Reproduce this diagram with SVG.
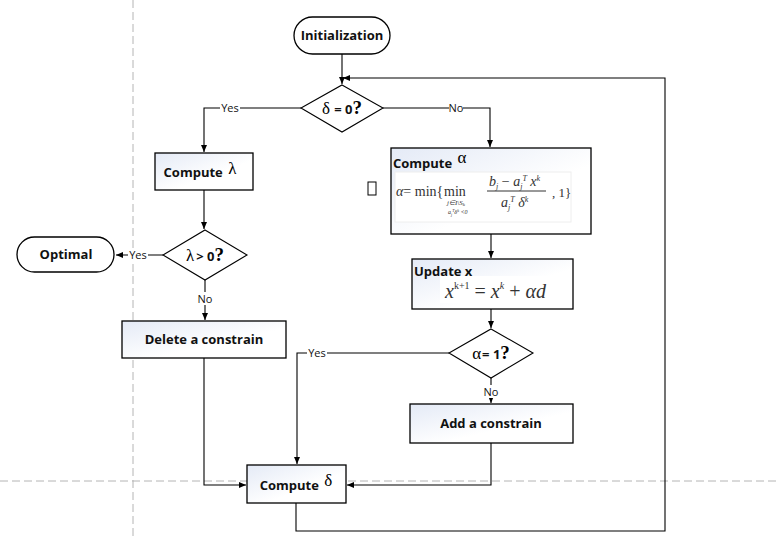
<svg xmlns="http://www.w3.org/2000/svg" width="779" height="538" viewBox="0 0 779 538">
<defs>
<linearGradient id="g" x1="0" y1="0" x2="1" y2="1">
<stop offset="0" stop-color="#e4eaf6"/>
<stop offset="0.6" stop-color="#ffffff"/>
</linearGradient>
<marker id="ah" markerWidth="8" markerHeight="8" refX="7" refY="4" orient="auto" markerUnits="userSpaceOnUse">
<path d="M0,1 L7,4 L0,7 Z" fill="#000"/>
</marker>
<style>
.box{fill:url(#g);stroke:#000;stroke-width:1.3}
.term{fill:#fff;stroke:#000;stroke-width:1.3}
.dia{fill:#fff;stroke:#000;stroke-width:1.1}
.t{font-family:"Open Sans","Noto Sans","Liberation Sans",sans-serif;font-weight:bold;font-size:13px;fill:#111}
.g{font-family:"Liberation Serif","Times New Roman",serif;font-size:17px;fill:#000}
.q{font-family:"Liberation Serif","Times New Roman",serif;font-weight:bold;font-size:19px;fill:#000}
.lab{font-family:"Open Sans","Noto Sans","Liberation Sans",sans-serif;font-size:11px;fill:#111}
.c{fill:none;stroke:#000;stroke-width:1.1}
.m{font-family:"Liberation Serif","Times New Roman",serif;fill:#333}
.dash{stroke:#b4b4b4;stroke-width:1;stroke-dasharray:8 4;fill:none}
</style>
</defs>
<rect width="779" height="538" fill="#fff"/>
<g id="guides">
<line class="dash" x1="133" y1="0" x2="133" y2="538"/>
<line class="dash" x1="0" y1="481" x2="779" y2="481"/>
</g>
<g id="connectors">
<path class="c" d="M342 54 V84" marker-end="url(#ah)"/>
<path class="c" d="M296 503 V531 H665 V78 H343" marker-end="url(#ah)"/>
<path class="c" d="M301 108 H204 V152" marker-end="url(#ah)"/>
<path class="c" d="M383 108 H490 V147" marker-end="url(#ah)"/>
<path class="c" d="M204 190 V229" marker-end="url(#ah)"/>
<path class="c" d="M163 255 H116" marker-end="url(#ah)"/>
<path class="c" d="M205 280 V320" marker-end="url(#ah)"/>
<path class="c" d="M204 358 V485 H246" marker-end="url(#ah)"/>
<path class="c" d="M491 234 V258" marker-end="url(#ah)"/>
<path class="c" d="M491 309 V328" marker-end="url(#ah)"/>
<path class="c" d="M491 378 V403" marker-end="url(#ah)"/>
<path class="c" d="M449 353 H297 V464" marker-end="url(#ah)"/>
<path class="c" d="M491 443 V485 H347" marker-end="url(#ah)"/>
<rect x="220" y="101" width="20" height="13" fill="#fff"/>
<text class="lab" x="230" y="112" text-anchor="middle">Yes</text>
<rect x="449" y="101" width="14" height="13" fill="#fff"/>
<text class="lab" x="456" y="112" text-anchor="middle">No</text>
<rect x="128" y="248" width="20" height="13" fill="#fff"/>
<text class="lab" x="138" y="259" text-anchor="middle">Yes</text>
<rect x="198" y="292" width="14" height="13" fill="#fff"/>
<text class="lab" x="205" y="303" text-anchor="middle">No</text>
<rect x="307" y="346" width="20" height="13" fill="#fff"/>
<text class="lab" x="317" y="357" text-anchor="middle">Yes</text>
<rect x="484" y="385" width="14" height="13" fill="#fff"/>
<text class="lab" x="491" y="396" text-anchor="middle">No</text>
</g>
<g id="init">
<rect class="term" x="294" y="17" width="96" height="37" rx="18.5"/>
<text class="t" x="342" y="40" text-anchor="middle">Initialization</text>
</g>
<g id="delta0">
<polygon class="dia" points="342,85 383,108 342,132 301,108"/>
<text x="342" y="114" text-anchor="middle"><tspan class="g">δ</tspan><tspan class="t" dx="4">= 0</tspan><tspan class="q">?</tspan></text>
</g>
<g id="computeLambda">
<rect class="box" x="155" y="153" width="98" height="37"/>
<text x="200" y="177" text-anchor="middle"><tspan class="t">Compute </tspan><tspan class="g" dx="2" dy="-3">λ</tspan></text>
</g>
<g id="lambdaPos">
<polygon class="dia" points="205,230 247,255 205,280 163,255"/>
<text x="205" y="261" text-anchor="middle"><tspan class="g">λ</tspan><tspan class="t" dx="2">&gt; 0</tspan><tspan class="q">?</tspan></text>
</g>
<g id="optimal">
<rect class="term" x="17" y="237" width="97" height="35" rx="17.5"/>
<text class="t" x="66" y="259" text-anchor="middle">Optimal</text>
</g>
<g id="deleteConstrain">
<rect class="box" x="122" y="321" width="164" height="37"/>
<text class="t" x="204" y="344" text-anchor="middle">Delete a constrain</text>
</g>
<g id="computeAlpha">
<rect class="box" x="391" y="148" width="200" height="86"/>
<text x="393" y="168"><tspan class="t">Compute </tspan><tspan class="g" dx="2" dy="-5">α</tspan></text>
<rect x="395" y="172" width="176" height="50" fill="#fff" stroke="#eee" stroke-width="1"/>
<text class="m" x="396" y="196" font-size="14"><tspan font-style="italic">α</tspan>= min{</text>
<text class="m" x="444" y="196" font-size="14">min</text>
<text class="m" x="447" y="205" font-size="7" font-style="italic">j∈I\S<tspan font-size="5" dy="1">k</tspan></text>
<text class="m" x="448" y="214" font-size="6" font-style="italic">a<tspan font-size="4" dy="2">j</tspan><tspan font-size="4" dy="-4">T</tspan><tspan dy="2">δ</tspan><tspan font-size="4" dy="-2">k</tspan><tspan dy="2"> &lt;0</tspan></text>
<text class="m" x="489" y="186" font-size="14" font-style="italic">b<tspan font-size="8" dy="3">j</tspan><tspan dy="-3" font-style="normal"> − </tspan>a<tspan font-size="8" dy="3">j</tspan><tspan font-size="8" dy="-8">T</tspan><tspan dy="5"> x</tspan><tspan font-size="8" dy="-5">k</tspan></text>
<line x1="487" y1="191" x2="546" y2="191" stroke="#333" stroke-width="1"/>
<text class="m" x="501" y="207" font-size="14" font-style="italic">a<tspan font-size="8" dy="3">j</tspan><tspan font-size="8" dy="-8">T</tspan><tspan dy="5"> δ</tspan><tspan font-size="8" dy="-5">k</tspan></text>
<text class="m" x="552" y="197" font-size="13">,  1}</text>
</g>
<g id="glyph">
<rect x="368" y="182" width="8" height="13" fill="none" stroke="#000" stroke-width="1"/>
</g>
<g id="updateX">
<rect class="box" x="412" y="259" width="161" height="50"/>
<rect x="440" y="276" width="110" height="27" fill="#fff"/>
<text class="t" x="414" y="276">Update x</text>
<text class="m" x="445" y="298" font-size="20" fill="#222" font-style="italic">x<tspan font-size="10" dy="-9" font-style="normal">k+1</tspan><tspan dy="9" font-style="normal"> = </tspan>x<tspan font-size="10" dy="-9">k</tspan><tspan dy="9" font-style="normal"> + </tspan>αd</text>
</g>
<g id="alphaOne">
<polygon class="dia" points="491,329 533,353 491,378 449,353"/>
<text x="491" y="359" text-anchor="middle"><tspan class="g">α</tspan><tspan class="t" dx="1">= 1</tspan><tspan class="q">?</tspan></text>
</g>
<g id="addConstrain">
<rect class="box" x="410" y="404" width="163" height="39"/>
<text class="t" x="491" y="428" text-anchor="middle">Add a constrain</text>
</g>
<g id="computeDelta">
<rect class="box" x="247" y="465" width="99" height="38"/>
<text x="296" y="490" text-anchor="middle"><tspan class="t">Compute </tspan><tspan class="g" dx="2" dy="-4">δ</tspan></text>
</g>
</svg>
